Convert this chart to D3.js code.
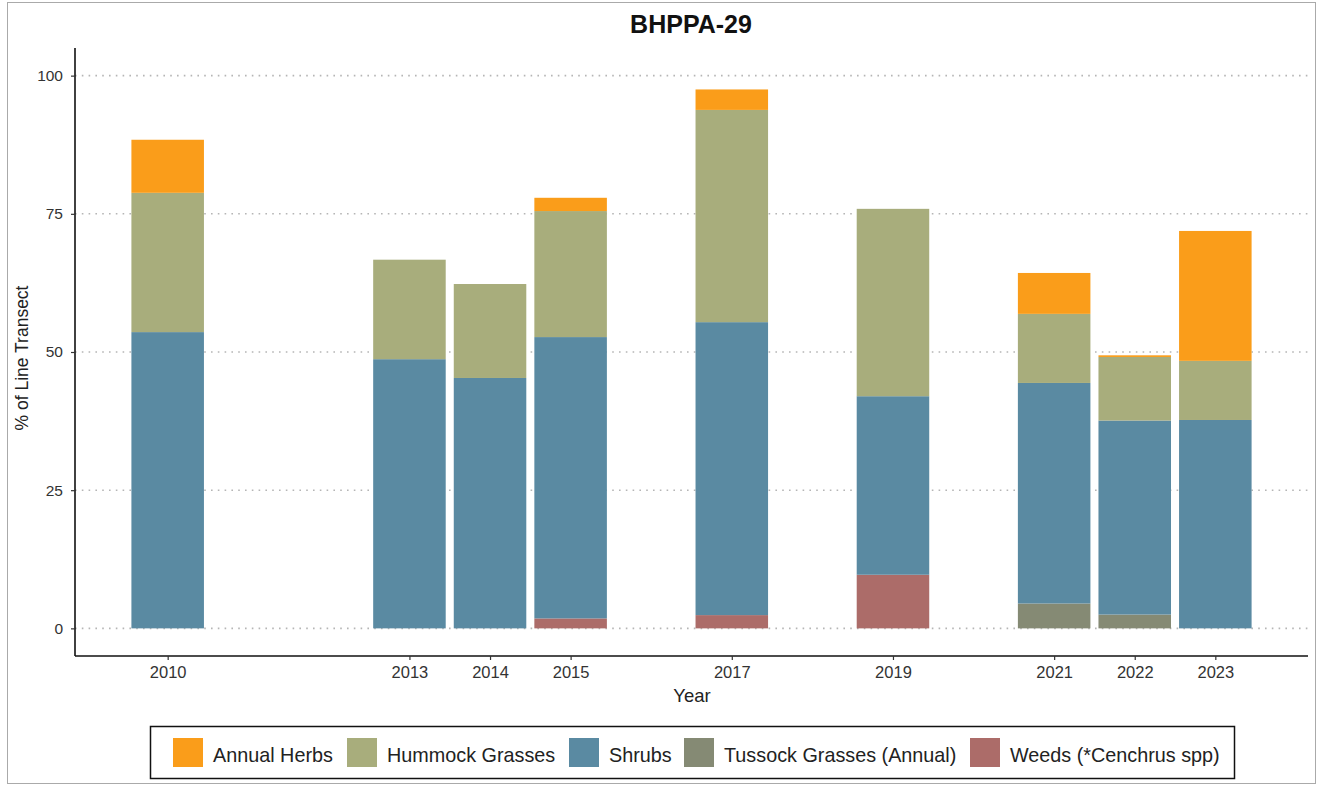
<!DOCTYPE html>
<html><head><meta charset="utf-8">
<script src="https://cdn.jsdelivr.net/npm/d3@7"></script>
<style>body{margin:0;background:#fff}svg{display:block}</style>
</head><body>
<svg id="c" width="1322" height="787"></svg>
<script>
const years = [2010, 2013, 2014, 2015, 2017, 2019, 2021, 2022, 2023];
const seriesNames = ["Annual Herbs", "Hummock Grasses", "Shrubs", "Tussock Grasses (Annual)", "Weeds (*Cenchrus spp)"];
const annualHerbs   = [9.6, 0, 0, 2.4, 3.7, 0, 7.4, 0.3, 23.5];
const hummock       = [25.2, 18.0, 17.0, 22.8, 38.4, 33.9, 12.5, 11.5, 10.7];
const shrubs        = [53.6, 48.7, 45.3, 50.9, 53.0, 32.3, 39.9, 35.1, 37.7];
const tussock       = [0, 0, 0, 0, 0, 0, 4.5, 2.5, 0];
const weeds         = [0, 0, 0, 1.8, 2.4, 9.7, 0, 0, 0];
const yTicks = [0, 25, 50, 75, 100];
const colors = ["#FA9D1A", "#A8AD7C", "#5A8AA2", "#858A74", "#AC6C69"];

const svg = d3.select("#c");
const font = "Liberation Sans, Arial, Helvetica, sans-serif";
svg.append("rect").attr("x",7.5).attr("y",2.5).attr("width",1308).attr("height",781)
  .attr("fill","#fff").attr("stroke","#aaa").attr("stroke-width",1);

const x = d3.scaleLinear().domain([2008.85, 2024.15]).range([75, 1308]);
const y = d3.scaleLinear().domain([-5, 105]).range([656, 48]);

// grid
svg.append("g").selectAll("line").data(yTicks).join("line")
  .attr("x1",75).attr("x2",1308).attr("y1",d=>y(d)).attr("y2",d=>y(d))
  .attr("stroke","#b5b5b5").attr("stroke-width",1.6).attr("stroke-dasharray","1.6,5.2");

// stacked data, stack order bottom->top: weeds, tussock, shrubs, hummock, herbs
const rows = years.map((yr,i)=>({year:yr,
  "Annual Herbs":annualHerbs[i], "Hummock Grasses":hummock[i], "Shrubs":shrubs[i],
  "Tussock Grasses (Annual)":tussock[i], "Weeds (*Cenchrus spp)":weeds[i]}));
const stackKeys = seriesNames.slice().reverse();
const stacked = d3.stack().keys(stackKeys)(rows);
const color = d3.scaleOrdinal().domain(seriesNames).range(colors);
const bw = x(2010.9) - x(2010);

svg.append("g").selectAll("g").data(stacked).join("g")
  .attr("fill", d=>color(d.key))
  .selectAll("rect").data(d=>d.filter(p=>p[1]-p[0]>0)).join("rect")
  .attr("x", d=>x(d.data.year)-bw/2).attr("width", bw)
  .attr("y", d=>y(d[1])).attr("height", d=>y(d[0])-y(d[1]));

// axes
const ya = svg.append("g").attr("transform","translate(75,0)")
  .call(d3.axisLeft(y).tickValues(yTicks).tickSize(4).tickPadding(8));
const xa = svg.append("g").attr("transform","translate(0,656)")
  .call(d3.axisBottom(x).tickValues(years).tickFormat(d3.format("d")).tickSize(4).tickPadding(6));
[ya,xa].forEach(a=>{
  a.select(".domain").attr("stroke","#111").attr("stroke-width",1.6);
  a.selectAll(".tick line").attr("stroke","#333").attr("stroke-width",1.2);
  a.selectAll("text").attr("font-family",font).attr("fill","#333");
});
ya.selectAll("text").attr("font-size",15.5);
xa.selectAll("text").attr("font-size",16.5);
ya.select(".domain").attr("d","M0,48V656");
xa.select(".domain").attr("d","M75,0H1308");

// titles
svg.append("text").attr("x",691).attr("y",33).attr("text-anchor","middle")
  .attr("font-family",font).attr("font-weight","bold").attr("font-size",25).attr("fill","#111").text("BHPPA-29");
svg.append("text").attr("x",692).attr("y",702).attr("text-anchor","middle")
  .attr("font-family",font).attr("font-size",18.5).attr("fill","#222").text("Year");
svg.append("text").attr("transform","translate(28,358) rotate(-90)").attr("text-anchor","middle")
  .attr("font-family",font).attr("font-size",17.5).attr("fill","#222").text("% of Line Transect");

// legend
svg.append("rect").attr("x",150.5).attr("y",726.5).attr("width",1084).attr("height",52)
  .attr("fill","#fff").attr("stroke","#111").attr("stroke-width",1.5);
const legX = [173, 347, 569, 684, 970];
const lg = svg.append("g").selectAll("g").data(seriesNames).join("g")
  .attr("transform",(d,i)=>`translate(${legX[i]},738)`);
lg.append("rect").attr("width",30).attr("height",29).attr("fill",d=>color(d));
lg.append("text").attr("x",40).attr("y",23.5).attr("font-family",font).attr("font-size",19.8)
  .attr("fill","#222").text(d=>d);
</script>
</body></html>
